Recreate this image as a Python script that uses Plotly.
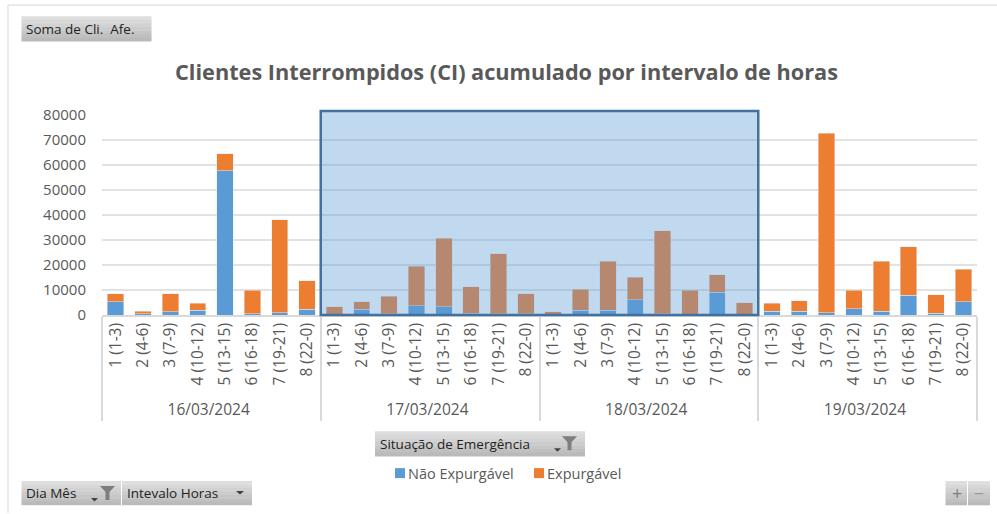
import plotly.graph_objects as go

days = ["16/03/2024", "17/03/2024", "18/03/2024", "19/03/2024"]
intervals = ["1 (1-3)", "2 (4-6)", "3 (7-9)", "4 (10-12)", "5 (13-15)", "6 (16-18)", "7 (19-21)", "8 (22-0)"]
nao_expurgavel = [5300, 600, 1400, 1900, 57800, 500, 1000, 2400,
                  400, 2400, 500, 3800, 3300, 800, 500, 500,
                  200, 1900, 1900, 6200, 500, 300, 9100, 200,
                  1500, 1500, 1000, 2500, 1500, 8000, 700, 5400]
expurgavel = [3200, 1000, 7200, 2900, 6700, 9500, 37200, 11400,
              3000, 2900, 7100, 15700, 27400, 10600, 24000, 8100,
              1200, 8500, 19600, 9000, 33300, 9600, 7100, 4700,
              3300, 4200, 71700, 7500, 20000, 19300, 7500, 13000]
y_ticks = [0, 10000, 20000, 30000, 40000, 50000, 60000, 70000, 80000]

FONT = "Open Sans"
L, R, T, B = 102, 977, 115, 315.5
px = lambda x: (x - L) / (R - L)
py = lambda y: (B - y) / (B - T)

x_levels = [[d for d in days for _ in intervals], intervals * len(days)]

fig = go.Figure()
fig.add_bar(x=x_levels, y=nao_expurgavel, name="Não Expurgável", marker_color="#5B9BD5")
fig.add_bar(x=x_levels, y=expurgavel, name="Expurgável", marker_color="#ED7D31")

shapes = []
annotations = []


def rect(x0, y0, x1, y1, fill, line=None, width=0, layer="above"):
    shapes.append(dict(type="rect", xref="paper", yref="paper", x0=px(x0), x1=px(x1), y0=py(y0), y1=py(y1),
                       fillcolor=fill, line=dict(color=line or "rgba(0,0,0,0)", width=width), layer=layer))


def label(x, y, text, fs=13.5, color="#1F1F1F", anchor="left"):
    annotations.append(dict(text=text, xref="paper", yref="paper", x=px(x), y=py(y),
                            xanchor=anchor, yanchor="middle", showarrow=False,
                            font=dict(family=FONT, size=fs, color=color)))


def button(x0, y0, x1, y1, text=None, fs=13.5, pad=2.5, color="#1F1F1F"):
    steps = ["#DEDEDE", "#D8D8D8", "#D2D2D2", "#CCCCCC", "#C6C6C6", "#C0C0C0", "#BABABA"]
    h = (y1 - y0) / len(steps)
    for i, c in enumerate(steps):
        rect(x0, y0 + i * h, x1, y0 + (i + 1) * h + 0.3, c)
    if text:
        label(x0 + pad, (y0 + y1) / 2, text, fs, color)


def poly(points, fill):
    d = "M" + " L".join(f"{px(x):.5f},{py(y):.5f}" for x, y in points) + " Z"
    shapes.append(dict(type="path", xref="paper", yref="paper", path=d, fillcolor=fill,
                       line=dict(width=0), layer="above"))


def funnel(x, y):
    poly([(x, y), (x + 15, y), (x + 9.5, y + 6), (x + 9.5, y + 14), (x + 5.5, y + 14), (x + 5.5, y + 6)], "#7F7F7F")


def caret(x, y, w=7):
    poly([(x, y), (x + w, y), (x + w / 2, y + 3.5)], "#404040")


# outer chart border
shapes.append(dict(type="line", xref="paper", yref="paper", x0=px(8), x1=px(997), y0=py(5), y1=py(5),
                   line=dict(color="#E4E4E4", width=1.5), layer="below"))
shapes.append(dict(type="line", xref="paper", yref="paper", x0=px(8), x1=px(8), y0=py(5), y1=py(514),
                   line=dict(color="#E4E4E4", width=1.5), layer="below"))

# selection rectangle over 17/03 and 18/03
shapes.append(dict(type="rect", xref="x", yref="paper", x0=7.5, x1=23.5, y0=py(315.5), y1=py(111),
                   fillcolor="rgba(91,155,213,0.38)", line=dict(color="#41719C", width=2.5), layer="above"))

# pivot-field buttons
button(21.5, 16, 151.5, 41, "Soma de Cli.  Afe.")
button(375, 432, 585, 457, "Situação de Emergência")
funnel(562, 437)
caret(554, 449)
button(21.5, 482, 121, 506, "Dia Mês")
funnel(100, 487)
caret(91, 499)
button(122, 482, 252, 506, "Intevalo Horas")
caret(236, 492, 8)
button(945.5, 482, 967, 506, "+", fs=18, pad=4, color="#7F7F7F")
button(968, 482, 990, 506, "−", fs=18, pad=4, color="#9A9A9A")

# legend entries, placed as in the reference
rect(395, 469, 405, 479, "#5B9BD5")
label(406, 474, "Não Expurgável", 14.5, "#595959")
rect(534, 469, 544, 479, "#ED7D31")
label(545, 474, "Expurgável", 14.5, "#595959")

fig.update_layout(
    width=997, height=514, autosize=False, barmode="stack", bargap=0.4, showlegend=False,
    paper_bgcolor="white", plot_bgcolor="white",
    margin=dict(l=L, r=997 - R, t=T, b=514 - B, pad=0),
    font=dict(family=FONT, color="#595959", size=15),
    title=dict(text="<b>Clientes Interrompidos (CI) acumulado por intervalo de horas</b>",
               x=506.5 / 997, xanchor="center", y=1 - 72 / 514, yanchor="middle",
               font=dict(family=FONT, size=21.7, color="#595959")),
    xaxis=dict(type="multicategory", tickangle=-90, showgrid=False, ticks="", showline=True, linecolor="#D9D9D9",
               linewidth=1.5, showdividers=True, dividercolor="#D9D9D9", dividerwidth=1.5,
               tickfont=dict(family=FONT, size=15.5, color="#595959")),
    yaxis=dict(range=[0, 80000], tickvals=y_ticks, tickformat="d", showgrid=True, gridcolor="#E2E2E2", gridwidth=1.5,
               zeroline=False, showline=False, ticks="", ticklabelstandoff=15,
               tickfont=dict(family=FONT, size=15, color="#595959")),
    shapes=shapes, annotations=annotations,
)

fig.write_html("out.html", config=dict(displayModeBar=False),
               post_script="document.body.style.margin='0';")
